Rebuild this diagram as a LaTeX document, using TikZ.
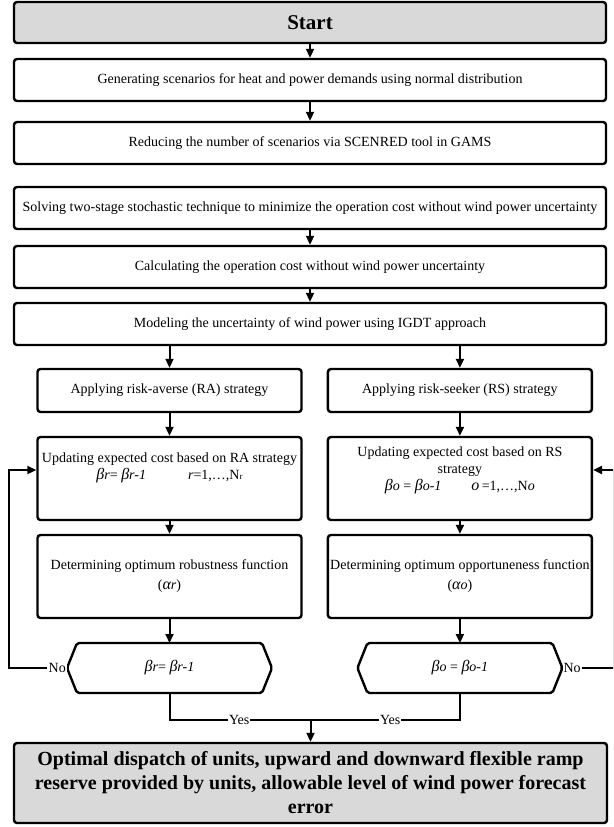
\documentclass[tikz,border=0pt]{standalone}
\usepackage{fontspec}
\setmainfont{Liberation Serif}
\usetikzlibrary{positioning, arrows.meta}
\newcommand{\bsym}[1]{{\fontsize{16}{16}\selectfont\itshape β}{\itshape #1}}
\newcommand{\asym}[1]{{\fontsize{16}{16}\selectfont\itshape α}{\itshape #1}}

\begin{document}
\begin{tikzpicture}[
  x=1pt, y=1pt,
  font=\fontsize{14}{17}\selectfont,
  box/.style={draw, line width=2.4pt, rounded corners=3pt, align=center, inner sep=2pt},
  wide/.style={box, minimum width=592pt, minimum height=42pt},
  col/.style={box, minimum width=264pt},
  term/.style={box, fill=gray!30, font=\bfseries\fontsize{21}{25}\selectfont},
  hexa/.style={minimum width=205pt, minimum height=50pt, inner sep=0pt, outer sep=0pt},
  lab/.style={fill=white, inner sep=1pt},
  a/.style={-{Triangle[length=9pt, width=8pt]}, line width=2pt},
  ln/.style={line width=2pt}
]
\clip (0,0) rectangle (613,-827);
% main column
\node[term, minimum width=592pt, minimum height=41pt] (start) at (310,-22.5) {Start};
\node[wide, below=13.6pt of start] (gen) {Generating scenarios for heat and power demands using normal distribution};
\node[wide, below=18.6pt of gen] (red) {Reducing the number of scenarios via SCENRED tool in GAMS};
\node[wide, below=20.6pt of red] (sol) {Solving two-stage stochastic technique to minimize the operation cost without wind power uncertainty};
\node[wide, below=14.6pt of sol] (calc) {Calculating the operation cost without wind power uncertainty};
\node[wide, below=12.6pt of calc] (model) {Modeling the uncertainty of wind power using IGDT approach};
% RA and RS branches
\node[col, minimum height=43pt] (appRA) at (169.5,-390.5) {Applying risk-averse (RA) strategy};
\node[col, minimum height=43pt, right=24pt of appRA] (appRS) {Applying risk-seeker (RS) strategy};
\node[col, minimum height=83pt, below=22.6pt of appRA] (updRA) {Updating expected cost based on RA strategy\\
  \bsym{r}= \bsym{r-1}\hspace{42pt}\textit{r}=1,…,N{\small r}\\[8pt]};
\node[col, minimum height=83pt, below=22.6pt of appRS] (updRS) {Updating expected cost based on RS\\ strategy\\
  \bsym{o} = \bsym{o-1}\hspace{30pt}{\fontsize{16}{16}\selectfont\itshape o}\,=1,…,N{\itshape o}\\[2pt]};
\node[col, minimum height=83pt, below=12.6pt of updRA] (detRA) {Determining optimum robustness function\\[3pt] (\asym{r})};
\node[col, minimum height=83pt, below=12.6pt of updRS] (detRS) {Determining optimum opportuneness function\\[3pt] (\asym{o})};
\node[hexa, below=23.8pt of detRA] (hexRA) {\bsym{r}= \bsym{r-1}};
\node[hexa, below=23.8pt of detRS] (hexRS) {\bsym{o} = \bsym{o-1}};
\foreach \h in {hexRA, hexRS}
  \draw[line width=2.4pt, rounded corners=2pt] (\h.west) -- ([xshift=10pt]\h.north west) -- ([xshift=-10pt]\h.north east)
    -- (\h.east) -- ([xshift=-10pt]\h.south east) -- ([xshift=10pt]\h.south west) -- cycle;
\node[term, minimum width=593pt, minimum height=80pt, font=\bfseries\fontsize{20}{24}\selectfont] (final) at (310.5,-783)
  {Optimal dispatch of units, upward and downward flexible ramp\\ reserve provided by units, allowable level of wind power forecast\\ error};
% connectors
\foreach \u/\v in {start/gen, gen/red, sol/calc, calc/model, appRA/updRA, updRA/detRA, detRA/hexRA, appRS/updRS, updRS/detRS, detRS/hexRS}
  \draw[a] (\u) -- (\v);
\draw[a] (model.south -| appRA) -- (appRA);
\draw[a] (model.south -| appRS) -- (appRS);
\node[lab, anchor=east] (noRA) at (hexRA.west) {No};
\node[lab, anchor=west] (noRS) at (hexRS.east) {No};
\draw[a] (noRA.west) -- ++(-38pt,0) |- ([yshift=8.5pt]updRA.west);
\draw[a] (noRS.east) -- ++(32pt,0) |- ([yshift=8.5pt]updRS.east);
\coordinate (merge) at ([yshift=-27pt]hexRA.south);
\draw[ln] (hexRA.south) -- (merge) -- node[lab, pos=0.24] {Yes} node[lab, pos=0.76] {Yes} (merge -| hexRS.south) -- (hexRS.south);
\draw[a] (merge -| final.north) -- (final.north);
\end{tikzpicture}
\end{document}
